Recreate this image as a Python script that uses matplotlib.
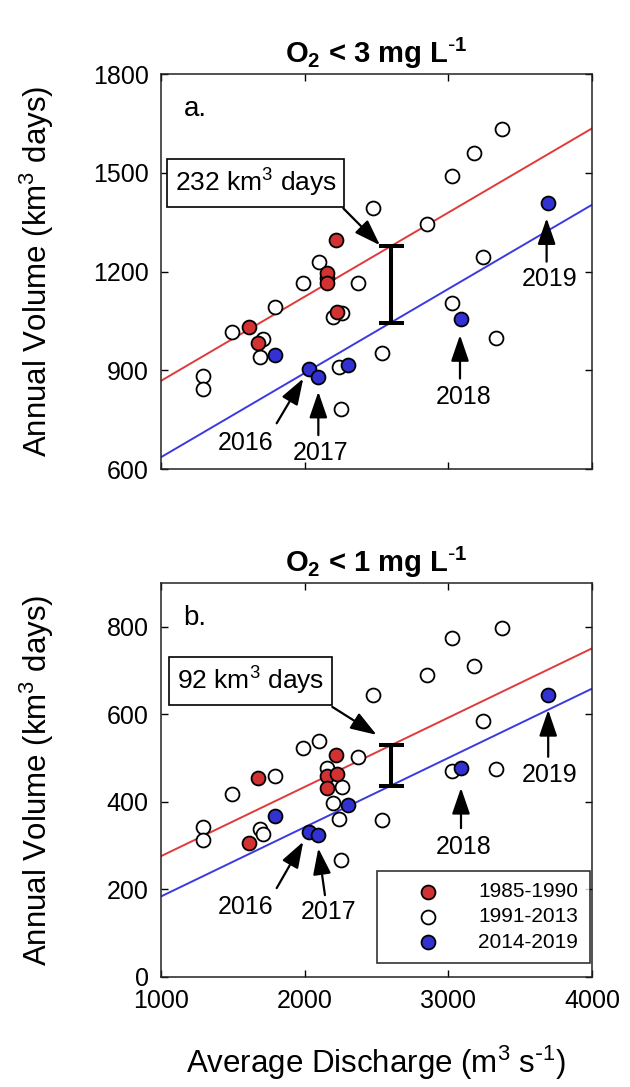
import numpy as np
import matplotlib
matplotlib.use('Agg')
import matplotlib.pyplot as plt

plt.rcParams['font.family'] = ['Liberation Sans', 'DejaVu Sans']
plt.rcParams['mathtext.default'] = 'regular'

# 1985-1990 (rojo)
x_rojo = [1610, 1675, 2155, 2155, 2218, 2222]
y3_rojo = [1030, 984, 1196, 1166, 1296, 1078]
y1_rojo = [305, 454, 459, 431, 507, 463]

# 1991-2013 (blanco)
x_blanco = [1290, 1290, 1492, 1688, 1712, 1790, 1990, 2100, 2153, 2195, 2240, 2253,
            2257, 2368, 2478, 2536, 2849, 3027, 3027, 3180, 3240, 3331, 3371]
y3_blanco = [882, 842, 1017, 941, 994, 1091, 1166, 1230, 1180, 1063, 909, 781,
             1075, 1166, 1392, 951, 1344, 1490, 1105, 1559, 1245, 997, 1632]
y1_blanco = [343, 313, 417, 337, 327, 458, 524, 539, 477, 398, 362, 267,
             435, 503, 644, 359, 690, 775, 471, 710, 585, 475, 796]

# 2014-2019 (azul)
x_azul = [1793, 2032, 2095, 2300, 3085, 3695]
y3_azul = [946, 904, 880, 916, 1055, 1407]
y1_azul = [368, 332, 324, 392, 477, 644]
anios = ['2016', '2017', '2018', '2019']

# Rectas de ajuste (pendiente comun, desplazamiento)
pend3, ord3_rojo, dif3 = 0.2556, 868, 232
pend1, ord1_rojo, dif1 = 0.1582, 276, 92
x_rect = np.array([1000, 4000])
x_barra = 2600

rojo = '#d23232'
azul = '#3232d2'
flecha = dict(arrowstyle='-|>,head_length=1.6,head_width=0.55',
              color='black', lw=1.6, shrinkA=0, shrinkB=0)

fig = plt.figure(figsize=(6.3, 10.87), dpi=100)
ax1 = fig.add_axes([0.2556, 0.5685, 0.6841, 0.3634])
ax2 = fig.add_axes([0.2556, 0.1012, 0.6841, 0.3625])


def panel(ax, y_r, y_b, y_a, pend, ord_r, dif, titulo, letra, texto,
          caja_xy, flecha_ini, flecha_fin, flechas, ylim, yticks):
    ax.plot(x_rect, ord_r + pend * (x_rect - 1000), color='#e03a3a', lw=1.4, zorder=1)
    ax.plot(x_rect, ord_r - dif + pend * (x_rect - 1000), color='#3a3ae0', lw=1.4, zorder=1)
    ytop = ord_r + pend * (x_barra - 1000)
    ax.errorbar([x_barra], [ytop - dif / 2], yerr=[dif / 2], color='black',
                elinewidth=2.9, capsize=9, capthick=2.9, zorder=2)
    kw = dict(s=100, edgecolors='black', linewidths=1.3, zorder=3)
    ax.scatter(x_blanco, y_b, facecolors='white', label='1991-2013', **kw)
    ax.scatter(x_rojo, y_r, facecolors=rojo, label='1985-1990', **kw)
    ax.scatter(x_azul, y_a, facecolors=azul, label='2014-2019', **kw)

    ax.text(caja_xy[0], caja_xy[1], texto, fontsize=19, ha='center', va='center',
            bbox=dict(boxstyle='square,pad=0.3', fc='white', ec='black', lw=1.2))
    ax.annotate('', xy=flecha_fin, xytext=flecha_ini, arrowprops=flecha)
    for anio, (tail, tip, txt) in zip(anios, flechas):
        ax.annotate('', xy=tip, xytext=tail, arrowprops=flecha)
        ax.text(txt[0], txt[1], anio, fontsize=18, ha='center', va='center')

    ax.text(0.052, 0.911, letra, transform=ax.transAxes, fontsize=20, ha='left', va='center')
    ax.set_title(titulo, fontsize=21, fontweight='bold', pad=8)
    ax.set_xlim(1000, 4000)
    ax.set_ylim(*ylim)
    ax.set_xticks([1000, 2000, 3000, 4000])
    ax.set_yticks(yticks)
    ax.tick_params(direction='in', top=True, right=True, labelsize=18, length=5,
                   width=1, pad=9)
    for s in ax.spines.values():
        s.set_linewidth(1.1)
        s.set_color('#222222')
    ax.set_ylabel('Annual Volume (km$^3$ days)', fontsize=22.5)
    ax.yaxis.set_label_coords(-0.243, 0.5)


panel(ax1, y3_rojo, y3_blanco, y3_azul, pend3, ord3_rojo, dif3,
      r'O$_2$ < 3 mg L$^{\text{-}1}$', 'a.', '232 km$^3$ days',
      (1658, 1469), (2269, 1392), (2524, 1280),
      [((1805, 739), (1990, 875), (1585, 680)),
       ((2095, 703), (2095, 835), (2113, 650)),
       ((3081, 875), (3081, 1007), (3104, 820)),
       ((3684, 1230), (3684, 1362), (3707, 1177))],
      (600, 1800), [600, 900, 1200, 1500, 1800])
ax1.set_xticklabels([])

panel(ax2, y1_rojo, y1_blanco, y1_azul, pend1, ord1_rojo, dif1,
      r'O$_2$ < 1 mg L$^{\text{-}1}$', 'b.', '92 km$^3$ days',
      (1625, 677), (2192, 617), (2501, 553),
      [((1805, 203), (1990, 309), (1585, 161)),
       ((2141, 187), (2095, 294), (2164, 149)),
       ((3088, 340), (3088, 432), (3104, 298)),
       ((3695, 503), (3695, 610), (3707, 461))],
      (0, 900), [0, 200, 400, 600, 800])
ax2.set_xlabel(r'Average Discharge (m$^3$ s$^{\text{-}1}$)', fontsize=22.5)
ax2.xaxis.set_label_coords(0.5, -0.17)

h, l = ax2.get_legend_handles_labels()
orden = [1, 0, 2]
ley = ax2.legend([h[i] for i in orden], [l[i] for i in orden], loc='lower right',
                 bbox_to_anchor=(0.995, 0.035), borderaxespad=0,
                 fontsize=15, frameon=True, fancybox=False, edgecolor='black',
                 handlelength=3.8, handletextpad=0.5, borderpad=0.55,
                 labelspacing=0.3)
ley.get_frame().set_linewidth(1.2)

fig.savefig('out.png', dpi=100)
